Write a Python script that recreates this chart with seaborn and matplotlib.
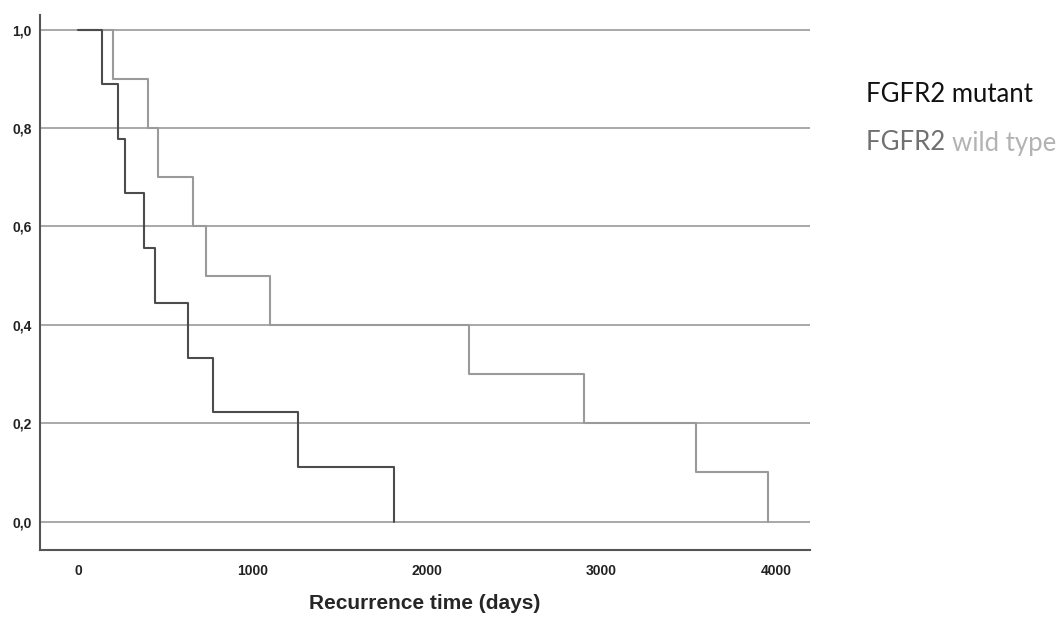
import numpy as np
import pandas as pd
import matplotlib
matplotlib.use("Agg")
import matplotlib.pyplot as plt
import seaborn as sns

# step points
mutant_days = [0, 137, 229, 269, 378, 441, 630, 774, 1261, 1811]
mutant_surv = [1.0, 0.889, 0.778, 0.667, 0.556, 0.444, 0.333, 0.222, 0.111, 0.0]
wild_days = [0, 200, 403, 455, 657, 733, 1100, 2240, 2900, 3541, 3954]
wild_surv = [1.0, 0.9, 0.8, 0.7, 0.6, 0.5, 0.4, 0.3, 0.2, 0.1, 0.0]
x_ticks = [0, 1000, 2000, 3000, 4000]
y_ticks = [0.0, 0.2, 0.4, 0.6, 0.8, 1.0]
y_labels = ["0,0", "0,2", "0,4", "0,6", "0,8", "1,0"]

df = pd.concat([
    pd.DataFrame({"days": wild_days, "surv": wild_surv, "group": "wild"}),
    pd.DataFrame({"days": mutant_days, "surv": mutant_surv, "group": "mutant"}),
])

sns.set_style("white")
plt.rcParams['font.family'] = ['Liberation Sans', 'DejaVu Sans']

fig = plt.figure(figsize=(10.56, 6.17), dpi=100)
ax = fig.add_axes([0.038, 0.109, 0.729, 0.867])

for y in y_ticks:
    ax.axhline(y, color="#a8a8a8", lw=1.4, zorder=0)

sns.lineplot(data=df, x="days", y="surv", hue="group",
             palette={"wild": "#9a9a9a", "mutant": "#4c4c4c"},
             hue_order=["wild", "mutant"], estimator=None, sort=False,
             drawstyle="steps-post", lw=1.5, legend=False, ax=ax)

ax.set_xlim(-218, 4195)
ax.set_ylim(-0.057, 1.03)
ax.set_xticks(x_ticks)
ax.set_xticklabels([str(t) for t in x_ticks], fontsize=10, fontweight="bold", color="#222222")
ax.set_yticks(y_ticks)
ax.set_yticklabels(y_labels, fontsize=10, fontweight="bold", color="#222222")
ax.tick_params(axis="y", length=0, pad=6)
ax.tick_params(axis="x", length=0, pad=10)
ax.set_xlabel("Recurrence time (days)", fontsize=15, fontweight="bold", labelpad=12)
ax.set_ylabel("")
for s in ["top", "right"]:
    ax.spines[s].set_visible(False)
for s in ["left", "bottom"]:
    ax.spines[s].set_color("#555555")
    ax.spines[s].set_linewidth(1.5)

# legend drawn as coloured text
fig.text(866 / 1056, 1 - 95 / 617, "FGFR2 mutant", fontsize=18.5, color="#111111",
         family="Lato", va="center", ha="left")
t1 = fig.text(866 / 1056, 1 - 143 / 617, "FGFR2 ", fontsize=18.5, color="#707070",
              family="Lato", va="center", ha="left")
fig.canvas.draw()
bb = t1.get_window_extent()
fig.text(bb.x1 / fig.bbox.width, 1 - 143 / 617, "wild type", fontsize=18.5,
         color="#b3b3b3", family="Lato", va="center", ha="left")

fig.savefig("out.png", dpi=100)
